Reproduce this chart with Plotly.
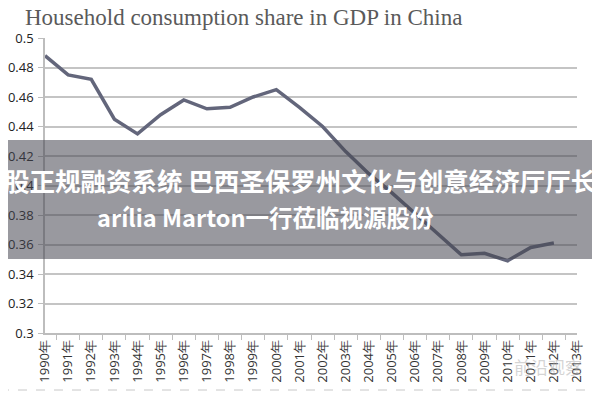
import plotly.graph_objects as go

# dados
anos = [f"{a}年" for a in range(1990, 2014)]
participacao = [0.488, 0.475, 0.472, 0.445, 0.435, 0.448, 0.458, 0.452, 0.453, 0.460,
                0.465, 0.453, 0.440, 0.423, 0.408, 0.395, 0.381, 0.367, 0.353, 0.354,
                0.349, 0.358, 0.361, None]

titulo = "Household consumption share in GDP in China"
faixa_linha1 = "股正规融资系统 巴西圣保罗州文化与创意经济厅厅长"
faixa_linha2 = "arília Marton一行莅临视源股份"
marca = "前沿观察"

fig = go.Figure()
fig.add_trace(go.Scatter(x=anos, y=participacao, mode="lines",
                         line=dict(color="#63667b", width=3.5),
                         connectgaps=False, showlegend=False, hoverinfo="x+y"))

# a página tem margem de 8px (body), por isso as margens já descontam isso
fig.update_layout(
    width=600, height=400,
    margin=dict(l=37, r=31, t=30, b=75),
    paper_bgcolor="white", plot_bgcolor="white",
    font=dict(family="Open Sans", color="#333"),
)

# pixel da janela -> coordenada "paper"
def px_x(x):
    return (x - 45) / 532

def px_y(y):
    return (333 - y) / 295

fig.add_annotation(text=titulo, xref="paper", yref="paper", x=px_x(23), y=px_y(18),
                   xanchor="left", yanchor="middle", showarrow=False,
                   font=dict(family="Liberation Serif", size=23, color="#5a5a5a"))

fig.update_yaxes(range=[0.3, 0.5], dtick=0.02, tick0=0.3, automargin=False,
                 showgrid=True, gridcolor="#c4c4c4", gridwidth=1.5,
                 showline=True, linecolor="#bdbdbd", linewidth=1.5,
                 ticks="outside", ticklen=5, tickcolor="#bdbdbd", ticklabelstandoff=2,
                 tickfont=dict(size=13, color="#222"), zeroline=False)
fig.update_xaxes(type="category", tickangle=-90, tickson="boundaries", automargin=False,
                 showgrid=False, showline=True, linecolor="#bdbdbd", linewidth=1.5,
                 ticks="outside", ticklen=5, tickcolor="#bdbdbd",
                 tickfont=dict(size=13, color="#333"))

# faixa cinza semitransparente com texto por cima
fig.add_shape(type="rect", xref="paper", yref="paper", x0=px_x(0), x1=px_x(610),
              y0=px_y(259), y1=px_y(140),
              fillcolor="rgba(70,70,80,0.55)", line=dict(width=0), layer="above")
fig.add_annotation(text=faixa_linha1, xref="paper", yref="paper",
                   x=px_x(300), y=px_y(179), xanchor="center", yanchor="middle",
                   showarrow=False,
                   font=dict(family="Noto Sans CJK SC", size=25.5, color="white", weight="bold"))
fig.add_annotation(text=faixa_linha2, xref="paper", yref="paper",
                   x=px_x(95), y=px_y(217), xanchor="left", yanchor="middle",
                   showarrow=False,
                   font=dict(family="Noto Sans CJK SC", size=23.5, color="white", weight="bold"))

# linha tracejada no rodapé e marca d'água
fig.add_shape(type="line", xref="paper", yref="paper", x0=px_x(0), x1=px_x(610),
              y0=px_y(390), y1=px_y(390),
              line=dict(color="#c8c8c8", width=1, dash="dash"))
fig.add_annotation(text=marca, xref="paper", yref="paper",
                   x=px_x(548), y=px_y(366), xanchor="center", yanchor="middle",
                   showarrow=False,
                   font=dict(family="Noto Sans CJK SC", size=17, color="rgba(170,170,170,0.5)"))

fig.write_html("out.html")
